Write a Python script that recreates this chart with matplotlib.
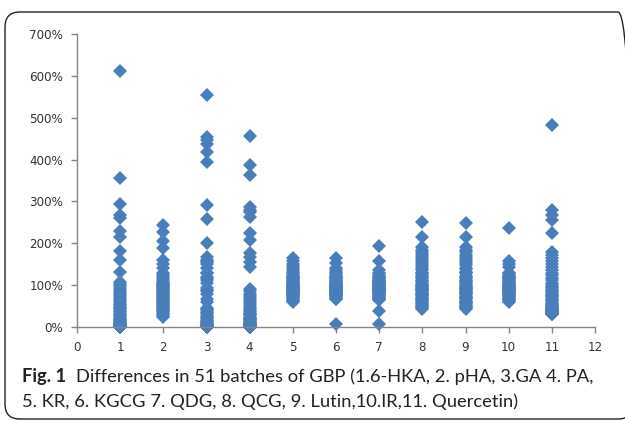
import matplotlib
matplotlib.use("Agg")
import matplotlib.pyplot as plt
from matplotlib.patches import FancyBboxPatch
from matplotlib.transforms import IdentityTransform
from matplotlib.ticker import FuncFormatter

# ---- data: relative content (%) of each marker compound in 51 batches ----
c1 = [612, 355, 295, 268, 260, 230, 216, 182, 160, 132, 108, 102, 97, 92, 88, 84, 80, 76,
      72, 68, 64, 60, 56, 52, 48, 45, 42, 38, 35, 32, 29, 26, 23, 20, 18, 16, 14, 12, 10,
      8, 7, 6, 5, 4, 3, 2, 2, 1, 1, 0, 0]
c2 = [243, 228, 205, 188, 160, 150, 140, 128, 124, 120, 116, 112, 108, 105, 102, 100, 98,
      96, 94, 92, 90, 88, 86, 84, 82, 80, 78, 76, 74, 72, 70, 68, 66, 64, 62, 60, 58, 55,
      52, 50, 48, 45, 42, 40, 38, 35, 32, 30, 27, 25, 100]
c3 = [554, 454, 446, 438, 418, 395, 291, 259, 201, 168, 160, 155, 150, 140, 128,
      120, 112, 105, 88, 85, 80, 68, 60, 45, 40, 33, 25, 21,
      18, 15, 12, 10, 8, 5, 3, 2, 1, 0, 0, 28, 118, 6, 4, 2, 14, 130, 158, 92, 0, 35, 42]
c4 = [456, 387, 363, 287, 280, 275, 263, 224, 208, 176, 168, 156, 144, 90, 85, 80, 75, 70,
      65, 60, 55, 50, 45, 42, 38, 35, 32, 30, 28, 25, 22, 20, 18, 16, 14, 12, 10, 9, 8, 7,
      6, 5, 4, 3, 2, 2, 1, 1, 0, 0, 0]
c5 = [164, 158, 150, 145, 140, 136, 132, 128, 125, 122, 120, 118, 116, 114, 112, 110, 108,
      106, 104, 102, 100, 99, 98, 97, 96, 95, 94, 93, 92, 91, 90, 89, 88, 87, 86, 85, 84,
      83, 82, 81, 80, 79, 78, 76, 74, 72, 70, 68, 65, 62, 60]
c6 = [164, 152, 140, 136, 132, 128, 125, 122, 120, 118, 116, 114, 112, 110, 108, 106, 104,
      102, 100, 99, 98, 97, 96, 95, 94, 93, 92, 91, 90, 89, 88, 87, 86, 85, 84, 83, 82, 81,
      80, 79, 78, 77, 76, 75, 74, 72, 70, 68, 66, 100, 6]
c7 = [193, 158, 136, 130, 126, 122, 120, 118, 116, 114, 112, 110, 108, 106, 104, 102, 100,
      99, 98, 97, 96, 95, 94, 93, 92, 91, 90, 89, 88, 87, 86, 85, 84, 83, 82, 81, 80, 78,
      76, 74, 72, 70, 68, 66, 64, 95, 100, 105, 110, 38, 8]
c8 = [250, 215, 192, 185, 180, 175, 170, 165, 160, 155, 150, 145, 140, 135, 130, 125, 120,
      115, 110, 105, 100, 97, 94, 91, 88, 85, 82, 79, 76, 73, 70, 67, 64, 61, 58, 55, 52,
      50, 48, 45, 43, 100, 110, 90, 80, 70, 60, 120, 130, 95, 85]
c9 = [249, 214, 190, 183, 178, 172, 168, 162, 158, 152, 148, 142, 138, 132, 128, 122, 118,
      112, 108, 104, 100, 96, 93, 90, 87, 84, 81, 78, 75, 72, 69, 66, 63, 60, 57, 54, 51,
      49, 47, 45, 44, 100, 110, 90, 80, 70, 60, 120, 130, 95, 85]
c10 = [236, 158, 150, 144, 130, 128, 125, 122, 120, 118, 116, 114, 112, 110, 108, 106, 104,
       102, 100, 99, 98, 97, 96, 95, 94, 93, 92, 91, 90, 89, 88, 87, 86, 85, 84, 83, 82, 81,
       80, 79, 78, 76, 74, 72, 70, 68, 66, 64, 62, 60, 100]
c11 = [482, 279, 267, 255, 224, 180, 172, 165, 158, 150, 144, 136, 130, 124, 118, 112, 105,
       100, 96, 92, 88, 84, 80, 76, 72, 68, 64, 60, 56, 52, 50, 48, 46, 44, 42, 40, 39, 38,
       37, 36, 35, 34, 33, 32, 31, 30, 45, 55, 65, 75, 85]
columns = [c1, c2, c3, c4, c5, c6, c7, c8, c9, c10, c11]

x_ticks = list(range(0, 13))
y_ticks = [0, 100, 200, 300, 400, 500, 600, 700]

caption_bold = "Fig. 1"
caption_line1 = "Differences in 51 batches of GBP (1.6-HKA, 2. pHA, 3.GA 4. PA,"
caption_line2 = "5. KR, 6. KGCG 7. QDG, 8. QCG, 9. Lutin,10.IR,11. Quercetin)"

MARKER_COLOR = "#4a7ebb"
AXIS_COLOR = "#868686"
TEXT_COLOR = "#333333"

fig = plt.figure(figsize=(6.25, 4.21), dpi=100)
fig.patch.set_facecolor("white")

# rounded frame around figure + caption (pixel coords, origin bottom-left)
frame = FancyBboxPatch((5, 2), 628, 407, boxstyle="round,pad=0,rounding_size=15",
                       transform=IdentityTransform(), facecolor="none",
                       edgecolor="#222222", linewidth=1.0)
fig.patches.append(frame)

ax = fig.add_axes([0.1232, 0.2233, 0.8288, 0.6959])
for i, vals in enumerate(columns, start=1):
    ax.plot([i] * len(vals), vals, linestyle="none", marker="D", markersize=7.3,
            color=MARKER_COLOR, markeredgewidth=0, clip_on=False)

ax.set_xlim(0, 12)
ax.set_ylim(0, 700)
ax.set_xticks(x_ticks)
ax.set_yticks(y_ticks)
ax.yaxis.set_major_formatter(FuncFormatter(lambda v, p: f"{int(v)}%"))
for s in ["top", "right"]:
    ax.spines[s].set_visible(False)
for s in ["left", "bottom"]:
    ax.spines[s].set_color(AXIS_COLOR)
    ax.spines[s].set_linewidth(1.0)
ax.tick_params(axis="both", direction="out", length=4, width=1.0, color=AXIS_COLOR,
               labelcolor=TEXT_COLOR, labelsize=8.6)
ax.tick_params(axis="x", pad=6)
ax.tick_params(axis="y", pad=6)

# caption
renderer = fig.canvas.get_renderer()
t_bold = fig.text(22 / 625, 1 - 382 / 421, caption_bold, fontsize=13.2, fontweight="bold",
                  family="Lato", color="#222222", va="baseline")
bb = t_bold.get_window_extent(renderer)
fig.text((bb.x1 + 10) / 625, 1 - 382 / 421, caption_line1, fontsize=13.2, family="Lato",
         color="#222222", va="baseline")
fig.text(22 / 625, 1 - 407 / 421, caption_line2, fontsize=13.2, family="Lato",
         color="#222222", va="baseline")

fig.savefig("out.png", dpi=100)
